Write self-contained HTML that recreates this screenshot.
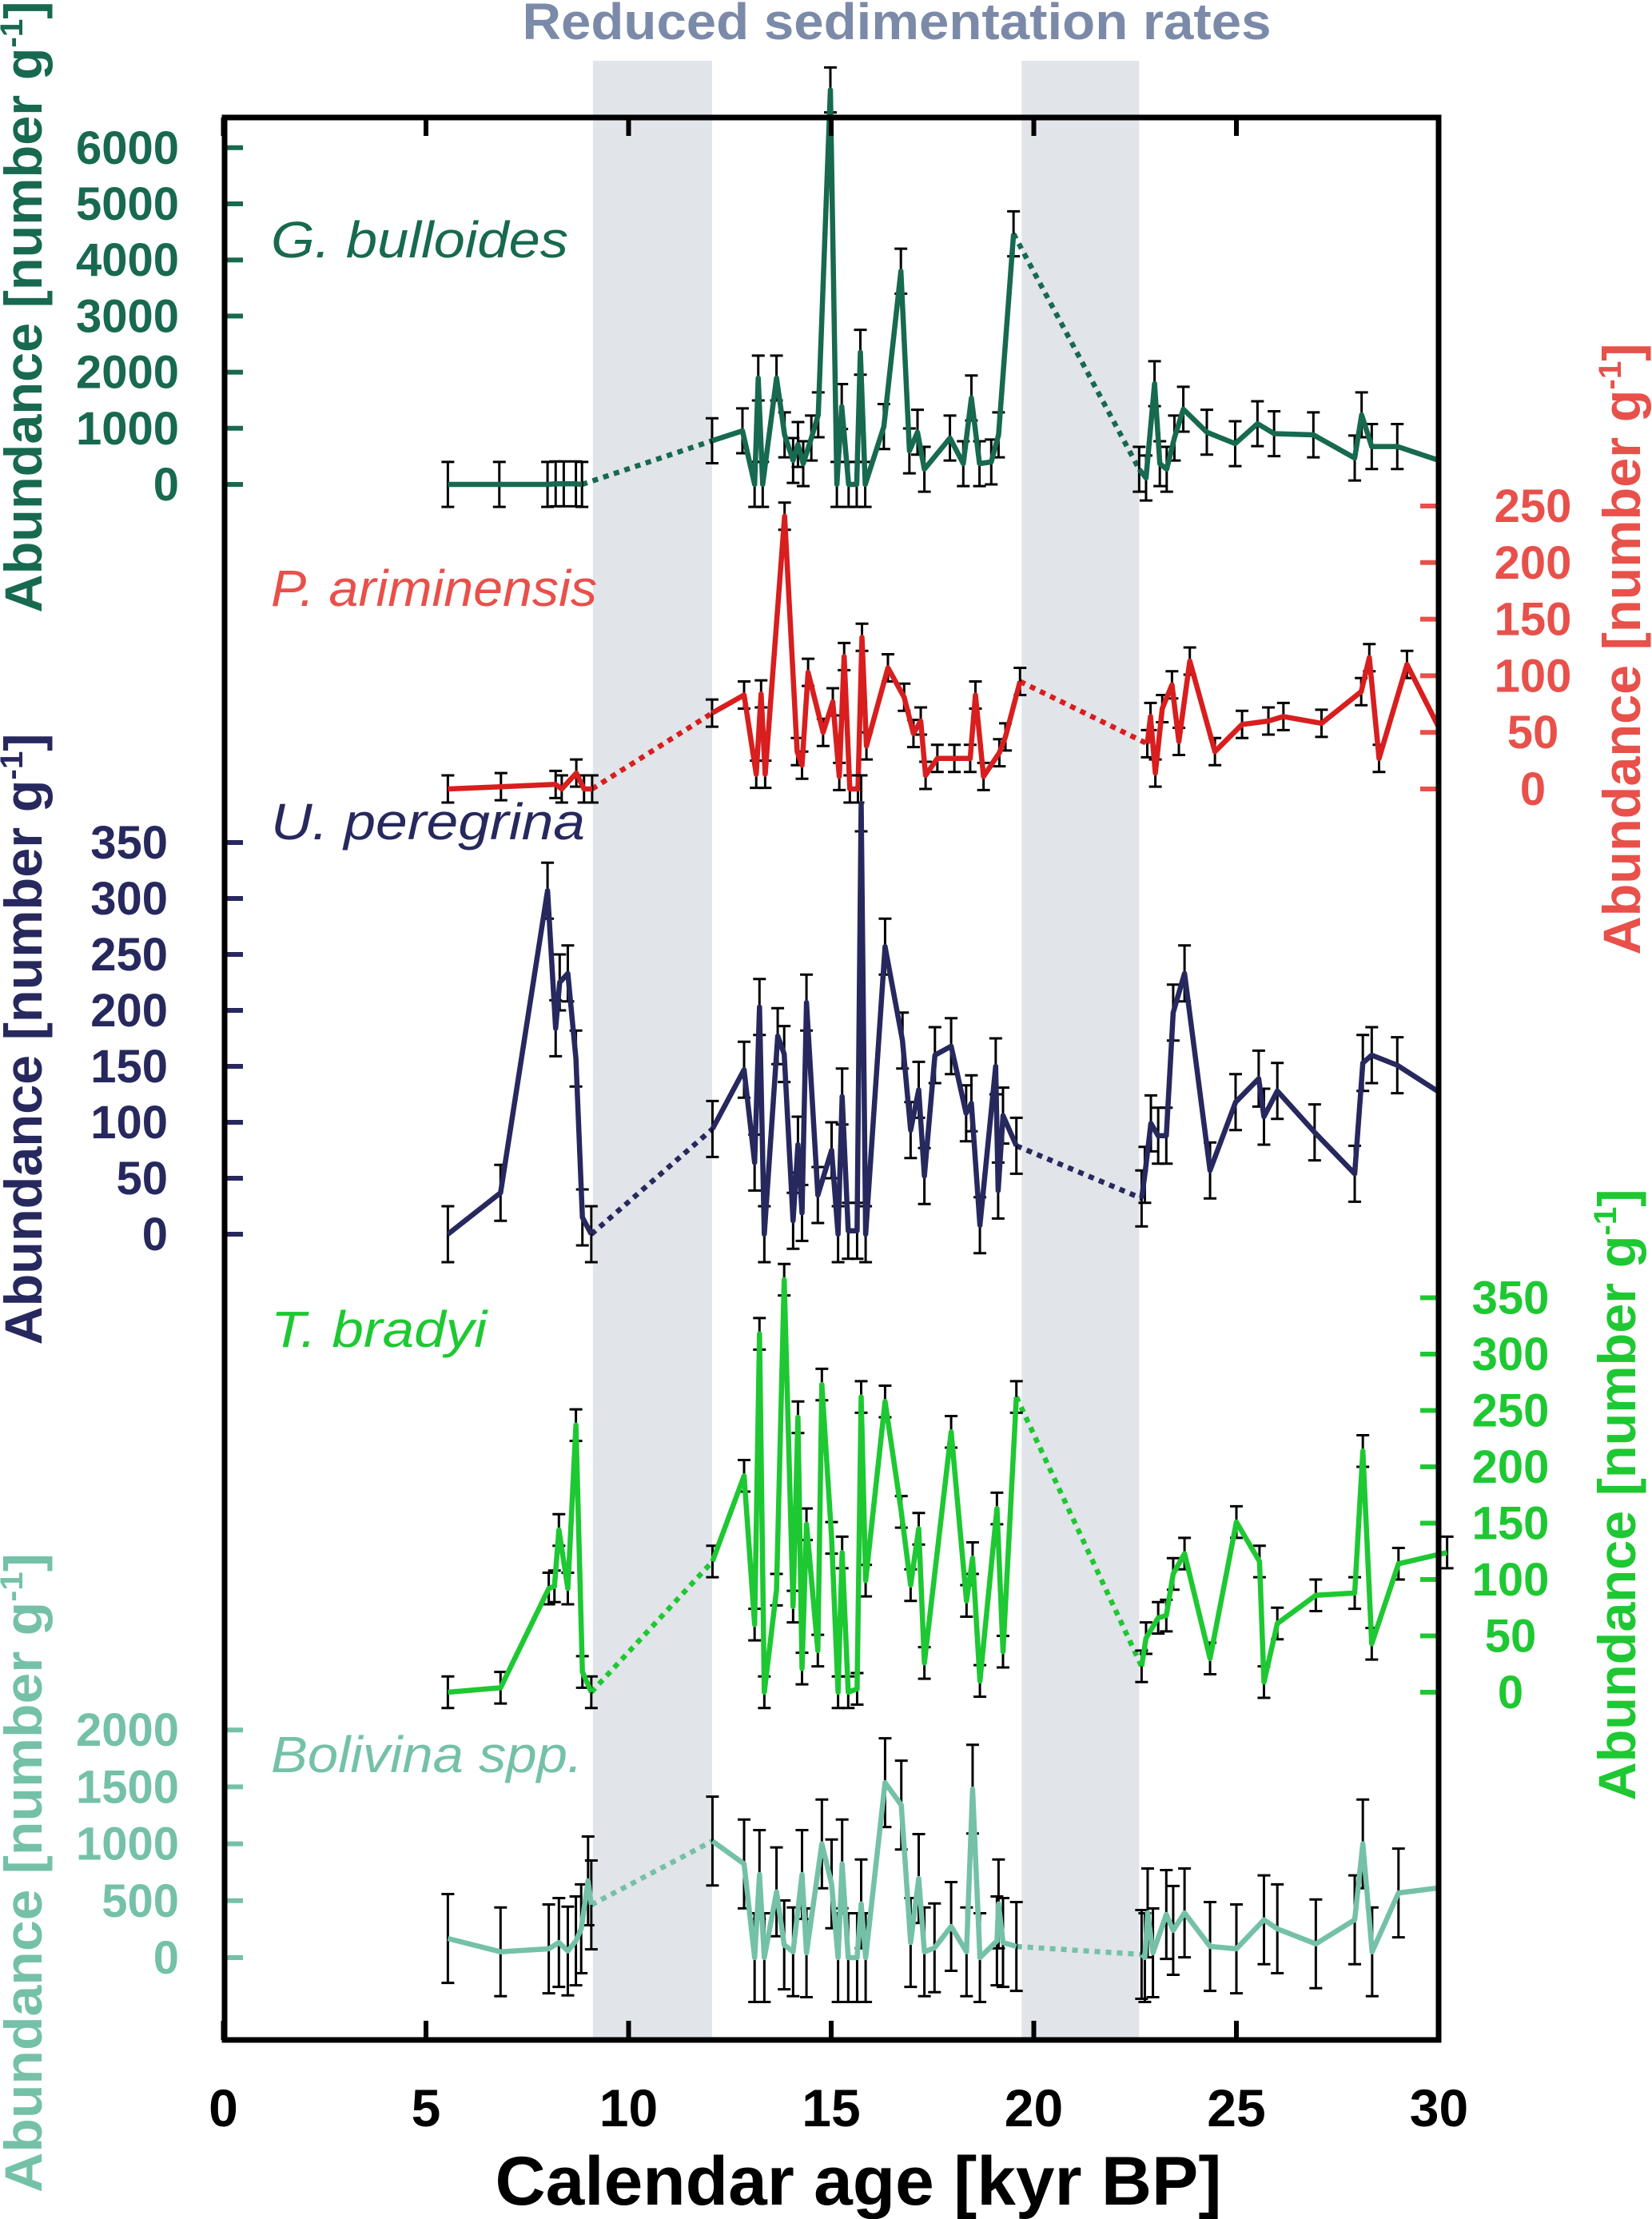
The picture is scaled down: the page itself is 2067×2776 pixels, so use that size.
<!DOCTYPE html>
<html><head><meta charset="utf-8"><style>
html,body{margin:0;padding:0;background:#fff;}
svg{display:block;}
text{font-family:"Liberation Sans",sans-serif;}
</style></head><body>
<svg id="chart" width="2067" height="2776" viewBox="0 0 2067 2776" xmlns="http://www.w3.org/2000/svg">
<g id="bands"></g>
<text x="1122" y="49" text-anchor="middle" font-size="64" font-weight="bold" fill="#7b8aa8" textLength="937" lengthAdjust="spacingAndGlyphs">Reduced sedimentation rates</text>
<g id="series"></g>
<g id="axes"></g>
<rect x="281" y="147" width="1519" height="2405" fill="none" stroke="#000" stroke-width="7"/>
<text x="1074" y="2758" text-anchor="middle" font-size="86" font-weight="bold" fill="#000" textLength="909" lengthAdjust="spacingAndGlyphs">Calendar age [kyr BP]</text>

<text x="339" y="322" font-size="64" font-style="italic" fill="#17694f" textLength="372" lengthAdjust="spacingAndGlyphs">G. bulloides</text>
<text x="339" y="758" font-size="64" font-style="italic" fill="#e8504a" textLength="408" lengthAdjust="spacingAndGlyphs">P. ariminensis</text>
<text x="339" y="1050" font-size="64" font-style="italic" fill="#27285e" textLength="393" lengthAdjust="spacingAndGlyphs">U. peregrina</text>
<text x="339" y="1685" font-size="64" font-style="italic" fill="#1ec832" textLength="270" lengthAdjust="spacingAndGlyphs">T. bradyi</text>
<text x="339" y="2217" font-size="64" font-style="italic" fill="#74c1a8" textLength="390" lengthAdjust="spacingAndGlyphs">Bolivina spp.</text>

<text transform="translate(52,384) rotate(-90)" text-anchor="middle" font-size="66" font-weight="bold" fill="#17694f" textLength="765" lengthAdjust="spacingAndGlyphs">Abundance [number g<tspan font-size="40" dy="-24">-1</tspan><tspan dy="24">]</tspan></text>
<text transform="translate(2052,812) rotate(-90)" text-anchor="middle" font-size="66" font-weight="bold" fill="#e8504a" textLength="765" lengthAdjust="spacingAndGlyphs">Abundance [number g<tspan font-size="40" dy="-24">-1</tspan><tspan dy="24">]</tspan></text>
<text transform="translate(52,1300) rotate(-90)" text-anchor="middle" font-size="66" font-weight="bold" fill="#27285e" textLength="765" lengthAdjust="spacingAndGlyphs">Abundance [number g<tspan font-size="40" dy="-24">-1</tspan><tspan dy="24">]</tspan></text>
<text transform="translate(2046,1870) rotate(-90)" text-anchor="middle" font-size="66" font-weight="bold" fill="#1ec832" textLength="765" lengthAdjust="spacingAndGlyphs">Abundance [number g<tspan font-size="40" dy="-24">-1</tspan><tspan dy="24">]</tspan></text>
<text transform="translate(52,2343) rotate(-90)" text-anchor="middle" font-size="66" font-weight="bold" fill="#74c1a8" textLength="800" lengthAdjust="spacingAndGlyphs">Abundance [number g<tspan font-size="40" dy="-24">-1</tspan><tspan dy="24">]</tspan></text>
</svg>
<script>
// ---- data ----
const bandStarts = [9.12, 19.7];
const bandEnds = [12.06, 22.6];
const xTicks = [0, 5, 10, 15, 20, 25, 30];

const gAge = [5.54,6.81,8.0,8.2,8.4,8.7,8.85,12.06,12.81,13.11,13.2,13.31,13.65,13.85,14.06,14.18,14.31,14.51,14.68,14.98,15.14,15.26,15.43,15.63,15.72,15.84,16.3,16.72,16.93,17.13,17.3,17.93,18.26,18.46,18.66,18.95,19.13,19.5,22.6,22.77,22.98,23.11,23.28,23.47,23.69,24.27,24.97,25.52,25.93,26.9,27.92,28.09,28.34,28.97,30];
const gVal = [0,0,0,10,10,10,0,778,955,0,1896,0,1896,883,427,712,370,826,1240,7030,0,1387,0,0,2355,0,1031,3800,598,930,270,826,370,1540,370,400,883,4466,270,114,1795,370,270,826,1340,930,726,1082,904,883,470,1240,675,675,427];
const gTicks = [0,1000,2000,3000,4000,5000,6000];

const pAge = [5.54,6.85,8.2,8.35,8.71,8.9,9.1,12.06,12.85,13.15,13.27,13.37,13.85,14.16,14.28,14.43,14.8,15.04,15.2,15.32,15.46,15.66,15.76,15.87,16.4,16.8,17.03,17.21,17.33,17.62,18.04,18.43,18.56,18.76,19.15,19.3,19.66,22.8,22.88,23.0,23.17,23.41,23.58,23.85,24.47,25.14,25.79,26.16,27.1,28.08,28.28,28.52,29.21,30];
const pVal = [0,2,4,0,14,0,0,67,83,13,84,13,241,33,21,103,50,77,11,117,0,0,134,38,107,81,49,60,12,27,27,27,83,11,32,46,95,40,64,14,71,92,42,113,33,57,60,64,58,86,116,27,110,54];
const pTicks = [0,50,100,150,200,250];

const uAge = [5.54,6.84,8.0,8.2,8.3,8.5,8.7,8.86,9.08,12.07,12.85,13.11,13.23,13.35,13.68,13.84,14.06,14.18,14.28,14.39,14.67,15.01,15.17,15.27,15.42,15.64,15.74,15.85,16.33,16.76,16.96,17.16,17.3,17.56,17.96,18.33,18.46,18.67,19.06,19.12,19.24,19.57,22.66,22.74,22.89,23.07,23.27,23.44,23.72,24.35,24.98,25.55,25.68,26.01,26.93,27.92,28.12,28.34,28.97,30];
const uVal = [0,37,307,184,225,233,157,15,0,94,147,64,203,0,177,161,12,80,19,207,35,75,0,123,3,3,385,0,257,173,93,129,52,160,168,108,117,8,150,39,106,79,32,53,99,88,88,198,233,57,118,139,105,128,91,54,153,160,151,127];
const uTicks = [0,50,100,150,200,250,300,350];

const tAge = [5.54,6.84,8.03,8.17,8.28,8.5,8.7,8.86,9.08,12.07,12.85,13.11,13.23,13.35,13.65,13.84,14.06,14.18,14.28,14.39,14.67,14.77,15.01,15.17,15.27,15.42,15.64,15.74,15.85,16.33,16.73,16.96,17.16,17.3,17.96,18.34,18.49,18.67,19.09,19.24,19.57,22.66,22.77,23.07,23.27,23.44,23.72,24.35,25.0,25.57,25.68,26.01,26.96,27.92,28.12,28.34,29.0,30.2];
const tVal = [0,4,92,94,144,92,237,18,0,116,192,60,318,0,91,366,76,244,21,149,37,273,137,0,124,0,3,262,99,258,160,95,145,26,231,81,119,10,163,36,262,23,48,66,68,105,123,30,151,116,9,61,86,88,214,43,114,124];
const tTicks = [0,50,100,150,200,250,300,350];

const bAge = [5.54,6.84,8.03,8.28,8.5,8.7,8.83,9.0,9.08,12.07,12.85,13.11,13.23,13.35,13.65,13.84,14.06,14.28,14.39,14.77,15.01,15.17,15.27,15.42,15.64,15.74,15.85,16.33,16.73,16.96,17.16,17.3,17.55,17.96,18.34,18.49,18.67,19.09,19.13,19.24,19.57,22.66,22.74,22.81,22.94,23.27,23.44,23.72,24.35,25.0,25.68,26.01,26.96,27.92,28.12,28.35,29.0,30];
const bVal = [168,51,77,133,58,147,253,674,463,1024,823,0,730,0,578,112,51,730,42,999,648,0,823,0,0,472,0,1537,1340,133,695,51,86,274,51,1480,0,147,472,133,98,28,0,393,42,379,239,393,98,77,332,253,121,332,999,51,568,613];
const bTicks = [0,500,1000,1500,2000];

const errG = 400, errP = 12, errU = 25, errT = 14, errB = 390;

// ---- scales ----
const X0 = 279.5, PXK = 50.7;
function xs(k){ return X0 + k*PXK; }
function mkY(zeroY, pxPerUnit){ return v => zeroY - v*pxPerUnit; }
const yG = mkY(606, 70.2/1000);
const yP = mkY(987, 70.8/50);
const yU = mkY(1544, 70/50);
const yT = mkY(2117, 70.5/50);
const yB = mkY(2449, 71.2/500);

const NS = 'http://www.w3.org/2000/svg';
function el(tag, attrs, parent){
  const e = document.createElementNS(NS, tag);
  for (const k in attrs) e.setAttribute(k, attrs[k]);
  parent.appendChild(e);
  return e;
}
const bandsG = document.getElementById('bands');
const seriesG = document.getElementById('series');
const axesG = document.getElementById('axes');

for (let i = 0; i < bandStarts.length; i++){
  const r = el('rect', {x: xs(bandStarts[i]), y: 76, width: xs(bandEnds[i]) - xs(bandStarts[i]), height: 2476, fill: '#e1e4e9'}, bandsG);
  
  
}

xTicks.forEach(t => {
  const top = el('line', {x1: xs(t), x2: xs(t), y1: 147, y2: 170, stroke: '#000', 'stroke-width': 6}, axesG);
  
  
  const bot = el('line', {x1: xs(t), x2: xs(t), y1: 2528, y2: 2552, stroke: '#000', 'stroke-width': 6}, axesG);
  
  
  const lb = el('text', {x: xs(t), y: 2660, 'text-anchor': 'middle', 'font-size': 66, 'font-weight': 'bold', fill: '#000'}, axesG);
  
  
  lb.textContent = t;
});

function yAxis(ticks, yf, color, side, labelX, name){
  ticks.forEach(t => {
    const y = yf(t);
    const x1 = side === 'left' ? 281 : 1777;
    const tk = el('line', {x1: x1, x2: x1 + 23, y1: y, y2: y, stroke: color, 'stroke-width': 6}, axesG);
    
    
    const lb = el('text', {x: labelX, y: y + 20, 'text-anchor': side === 'left' ? 'end' : 'middle', 'font-size': 58, 'font-weight': 'bold', fill: color}, axesG);
    
    
    lb.textContent = t;
  });
}
yAxis(gTicks, yG, '#17694f', 'left', 224, 'g-bulloides');
yAxis(pTicks, yP, '#e8504a', 'right', 1918, 'p-ariminensis');
yAxis(uTicks, yU, '#27285e', 'left', 210, 'u-peregrina');
yAxis(tTicks, yT, '#1ec832', 'right', 1890, 't-bradyi');
yAxis(bTicks, yB, '#74c1a8', 'left', 224, 'bolivina');

function drawSeries(ages, vals, err, yf, color, name){
  const g = el('g', {}, seriesG);
  
  
  for (let i = 0; i < ages.length - 1; i++){
    const x1 = xs(ages[i]), y1 = yf(vals[i]), x2 = xs(ages[i+1]), y2 = yf(vals[i+1]);
    if (ages[i+1] - ages[i] > 2){
      const d = el('line', {x1: x1, y1: y1, x2: x2, y2: y2, stroke: color, 'stroke-width': 6.5, 'stroke-dasharray': '7 7'}, g);
      
      
    }
  }
  let d = '';
  for (let i = 0; i < ages.length; i++){
    const cmd = (i === 0 || ages[i] - ages[i-1] > 2) ? 'M' : 'L';
    d += cmd + xs(ages[i]).toFixed(1) + ',' + yf(vals[i]).toFixed(1) + ' ';
  }
  for (let i = 0; i < ages.length; i++){
    if (ages[i] === 30) continue;
    const x = xs(ages[i]);
    const yTop = yf(vals[i] + err), yBot = yf(vals[i] - err);
    const eb = el('path', {d: `M${x},${yTop}V${yBot}M${x-8},${yTop}H${x+8}M${x-8},${yBot}H${x+8}`, stroke: '#000', 'stroke-width': 3, fill: 'none'}, g);
    
    
  }
  const p = el('path', {d: d, stroke: color, 'stroke-width': 6.5, fill: 'none', 'stroke-linejoin': 'round'}, g);
  
  
}
drawSeries(gAge, gVal, errG, yG, '#17694f', 'g-bulloides');
drawSeries(pAge, pVal, errP, yP, '#d81e1e', 'p-ariminensis');
drawSeries(uAge, uVal, errU, yU, '#27285e', 'u-peregrina');
drawSeries(tAge, tVal, errT, yT, '#1ec832', 't-bradyi');
drawSeries(bAge, bVal, errB, yB, '#74c1a8', 'bolivina');
</script>
</body></html>
